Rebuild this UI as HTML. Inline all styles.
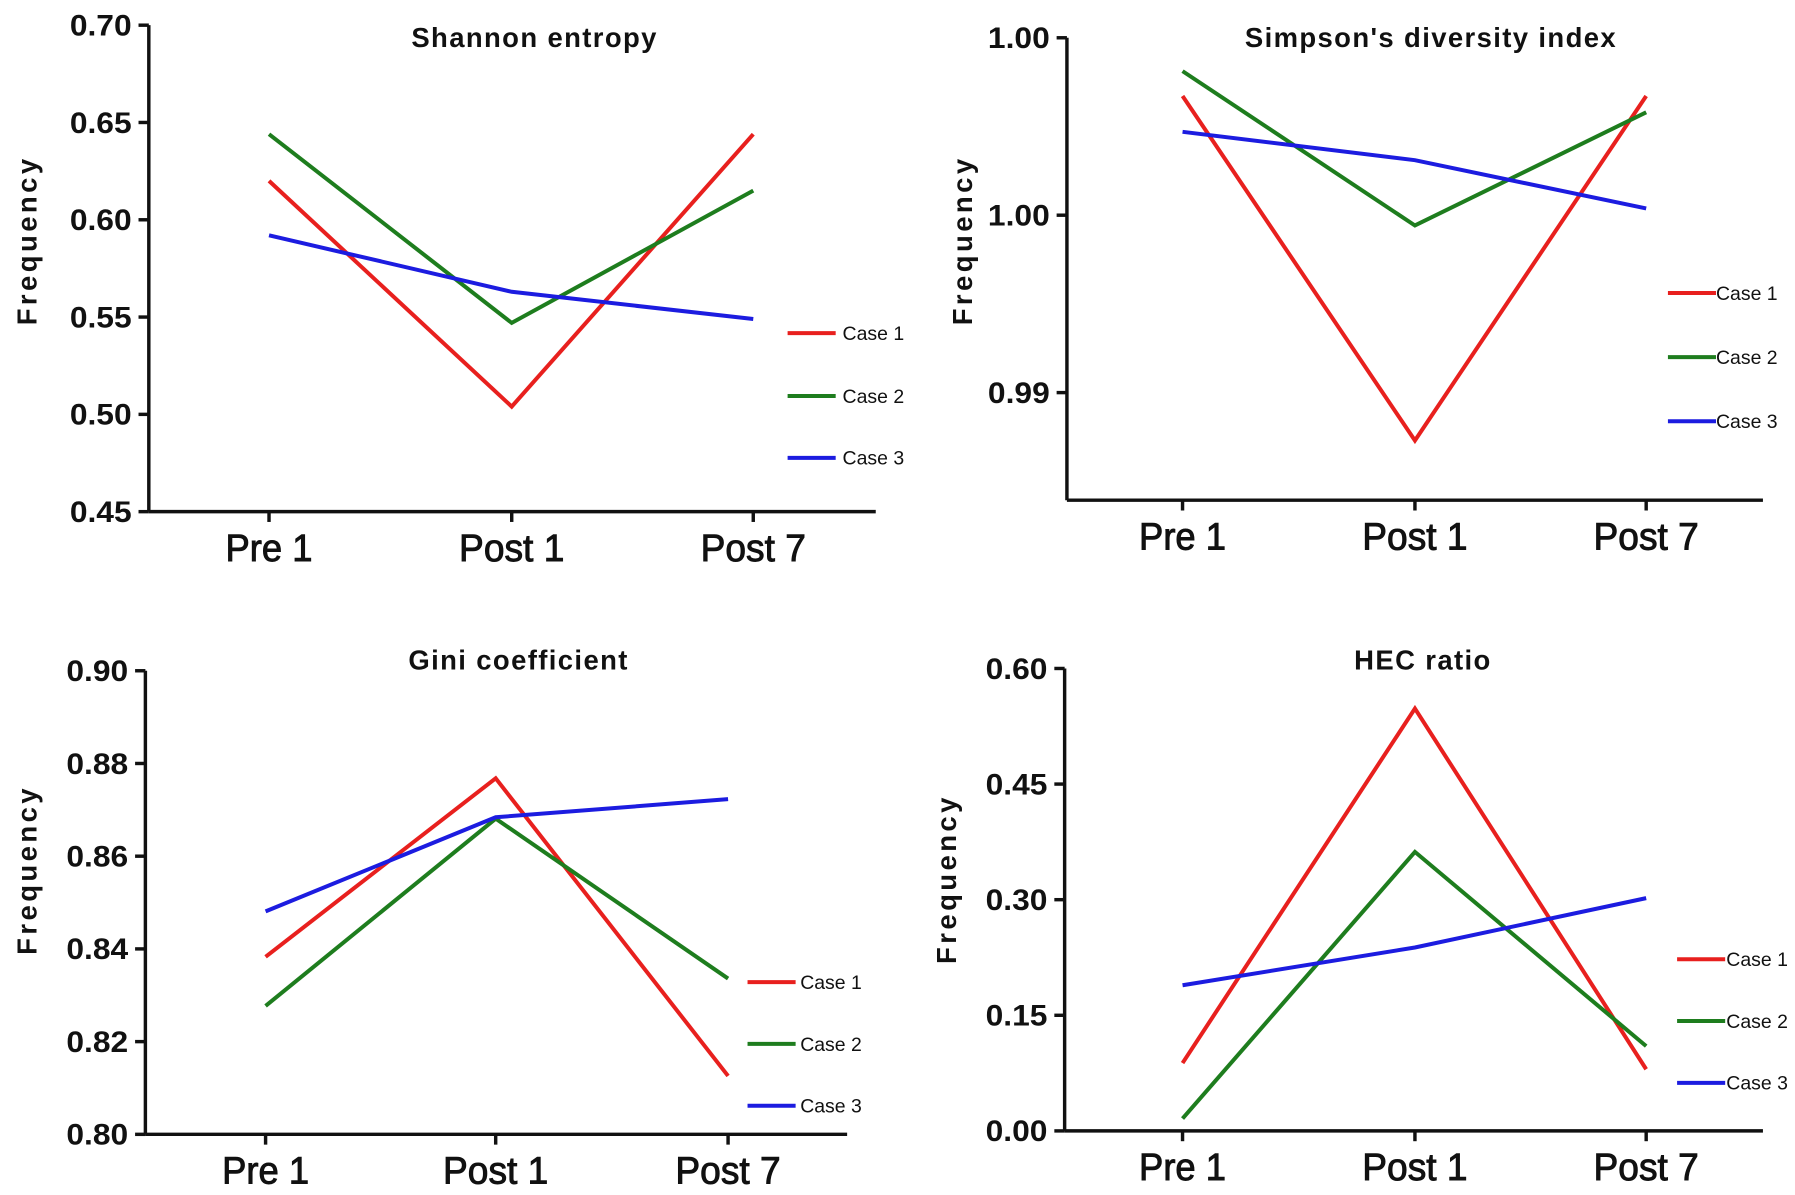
<!DOCTYPE html>
<html><head><meta charset="utf-8"><style>
html,body{margin:0;padding:0;background:#fff;}
svg{display:block;font-family:"Liberation Sans",Arial,sans-serif;}
</style></head><body>
<svg id="chart" width="1795" height="1195" viewBox="0 0 1568 1044" preserveAspectRatio="none" xmlns="http://www.w3.org/2000/svg"></svg>
<script>
const categories = ["Pre 1", "Post 1", "Post 7"];
const seriesNames = ["Case 1", "Case 2", "Case 3"];
const colors = ["#e8201e", "#1e7d1e", "#1c1ce0"];

const shannonCase1 = [0.620, 0.504, 0.644];
const shannonCase2 = [0.644, 0.547, 0.615];
const shannonCase3 = [0.592, 0.563, 0.549];
const shannonTicks = [0.45, 0.50, 0.55, 0.60, 0.65, 0.70];
const shannonTickLabels = ["0.45", "0.50", "0.55", "0.60", "0.65", "0.70"];

const simpsonCase1 = [0.99836, 0.98865, 0.99836];
const simpsonCase2 = [0.99906, 0.99471, 0.99790];
const simpsonCase3 = [0.99735, 0.99655, 0.99519];
const simpsonTicks = [0.990, 0.995, 1.000];
const simpsonTickLabels = ["0.99", "1.00", "1.00"];

const giniCase1 = [0.8383, 0.8768, 0.8126];
const giniCase2 = [0.8277, 0.8681, 0.8336];
const giniCase3 = [0.8481, 0.8684, 0.8723];
const giniTicks = [0.80, 0.82, 0.84, 0.86, 0.88, 0.90];
const giniTickLabels = ["0.80", "0.82", "0.84", "0.86", "0.88", "0.90"];

const hecCase1 = [0.088, 0.548, 0.080];
const hecCase2 = [0.016, 0.362, 0.110];
const hecCase3 = [0.189, 0.238, 0.302];
const hecTicks = [0.00, 0.15, 0.30, 0.45, 0.60];
const hecTickLabels = ["0.00", "0.15", "0.30", "0.45", "0.60"];

const NS = "http://www.w3.org/2000/svg";
const svg = document.getElementById("chart");
function mk(tag, attrs, parent) {
  const e = document.createElementNS(NS, tag);
  for (const k in attrs) e.setAttribute(k, attrs[k]);
  (parent || svg).appendChild(e);
  return e;
}
const catWidths = [76, 92, 92];

function panel(cfg) {
  const g = mk("g", {});
  
  
  const y = v => cfg.y0 - (v - cfg.v0) / (cfg.v1 - cfg.v0) * (cfg.y0 - cfg.y1);
  const x = i => cfg.cx[i];
  const ya = mk("line", {x1: cfg.ax, y1: cfg.axTop, x2: cfg.ax, y2: cfg.axBottom, stroke: "#111", "stroke-width": 3}, g);
  
  
  const xa = mk("line", {x1: cfg.ax, y1: cfg.axBottom, x2: cfg.axRight, y2: cfg.axBottom, stroke: "#111", "stroke-width": 3}, g);
  
  
  cfg.ticks.forEach((t, i) => {
    const ty = y(t);
    const tl = mk("line", {x1: cfg.ax - 9, y1: ty, x2: cfg.ax, y2: ty, stroke: "#111", "stroke-width": 3}, g);
    
    
    const tx = mk("text", {x: cfg.ax - 15, y: ty + 9, "text-anchor": "end", "font-size": 26, "font-weight": "bold", fill: "#111", textLength: 54, lengthAdjust: "spacingAndGlyphs"}, g);
    tx.textContent = cfg.tickLabels[i];
    
    
  });
  categories.forEach((c, i) => {
    const tl = mk("line", {x1: x(i), y1: cfg.axBottom, x2: x(i), y2: cfg.axBottom + 9, stroke: "#111", "stroke-width": 3}, g);
    
    
    const tx = mk("text", {x: x(i) - catWidths[i] / 2, y: cfg.axBottom + 43, "font-size": 33, fill: "#111", "stroke": "#111", "stroke-width": 0.8, textLength: catWidths[i], lengthAdjust: "spacingAndGlyphs"}, g);
    tx.textContent = c;
    
    
  });
  const title = mk("text", {x: cfg.titleX, y: cfg.titleY, "text-anchor": "middle", "font-size": 24, "font-weight": "bold", fill: "#111", "letter-spacing": 1.2}, g);
  title.textContent = cfg.title;
  
  
  const yl = mk("text", {x: 0, y: 0, "text-anchor": "middle", "font-size": 24, "font-weight": "bold", fill: "#111", "letter-spacing": 3, transform: `translate(${cfg.ylx},${cfg.yly}) rotate(-90)`}, g);
  yl.textContent = "Frequency";
  
  
  cfg.series.forEach((s, si) => {
    const pts = s.map((v, i) => x(i) + "," + y(v)).join(" ");
    const pl = mk("polyline", {points: pts, fill: "none", stroke: colors[si], "stroke-width": 3.5, "stroke-linejoin": "miter"}, g);
    
    
    const ly = cfg.legY[si];
    const ll = mk("line", {x1: cfg.legX, y1: ly, x2: cfg.legX + 42, y2: ly, stroke: colors[si], "stroke-width": 3.5}, g);
    
    
    const lt = mk("text", {x: cfg.legX + cfg.legTextOff, y: ly + 6, "font-size": 17, fill: "#111"}, g);
    lt.textContent = seriesNames[si];
    
    
  });
}

panel({name: "shannon-entropy-panel", title: "Shannon entropy", titleX: 467, titleY: 41,
  ax: 130, axTop: 22, axBottom: 447, axRight: 765, v0: 0.45, v1: 0.70, y0: 447, y1: 22,
  cx: [235, 447, 658], ticks: shannonTicks, tickLabels: shannonTickLabels,
  series: [shannonCase1, shannonCase2, shannonCase3], ylx: 32, yly: 210,
  legX: 688, legY: [291, 346, 400], legTextOff: 48});
panel({name: "simpson-diversity-panel", title: "Simpson's diversity index", titleX: 1250, titleY: 41,
  ax: 932, axTop: 33, axBottom: 437, axRight: 1540, v0: 0.990, v1: 1.000, y0: 343, y1: 33,
  cx: [1033, 1236, 1438], ticks: simpsonTicks, tickLabels: simpsonTickLabels,
  series: [simpsonCase1, simpsonCase2, simpsonCase3], ylx: 849, yly: 210,
  legX: 1457, legY: [256, 312, 368], legTextOff: 42});
panel({name: "gini-coefficient-panel", title: "Gini coefficient", titleX: 453, titleY: 585,
  ax: 127, axTop: 586, axBottom: 991, axRight: 740, v0: 0.80, v1: 0.90, y0: 991, y1: 586,
  cx: [232, 433, 636], ticks: giniTicks, tickLabels: giniTickLabels,
  series: [giniCase1, giniCase2, giniCase3], ylx: 32, yly: 760,
  legX: 653, legY: [858, 912, 966], legTextOff: 46});
panel({name: "hec-ratio-panel", title: "HEC ratio", titleX: 1243, titleY: 585,
  ax: 930, axTop: 584, axBottom: 988, axRight: 1540, v0: 0.00, v1: 0.60, y0: 988, y1: 584,
  cx: [1033, 1236, 1438], ticks: hecTicks, tickLabels: hecTickLabels,
  series: [hecCase1, hecCase2, hecCase3], ylx: 835, yly: 768,
  legX: 1465, legY: [838, 892, 946], legTextOff: 43});
</script>
</body></html>
